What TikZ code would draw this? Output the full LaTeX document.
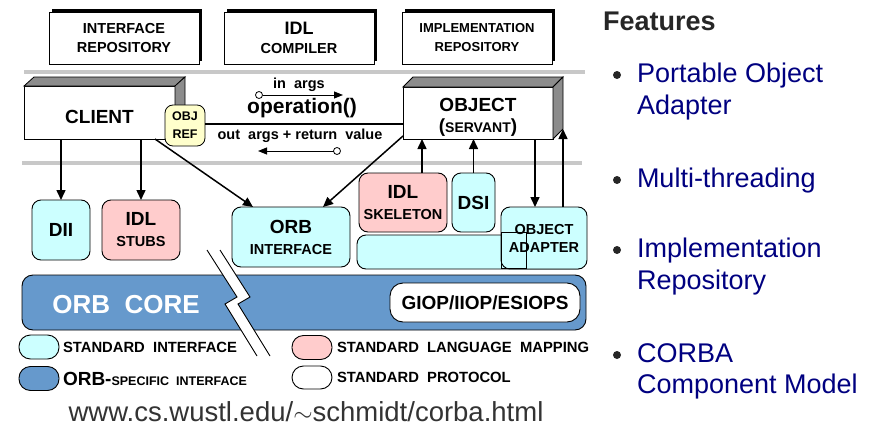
\documentclass[tikz,border=0pt]{standalone}
\usepackage{fontspec}
\setmainfont{Liberation Sans}
\usetikzlibrary{arrows.meta,calc,shadows}
\definecolor{stdcyan}{HTML}{CCFFFF}
\definecolor{stdpink}{HTML}{FFCCCC}
\definecolor{orbblue}{HTML}{6699CC}
\definecolor{refyellow}{HTML}{FFFFCC}
\definecolor{featblue}{HTML}{000080}
\definecolor{sepgray}{HTML}{C8C8C8}
\definecolor{facegray}{HTML}{8C8C8C}
\newcommand\fsz[1]{\fontsize{#1}{#1}\selectfont}
\begin{document}
\begin{tikzpicture}[x=1pt,y=-1pt,
  every node/.style={inner sep=0pt, outer sep=0pt},
  arr/.style={-{Triangle[length=10pt,width=9pt]}, line width=1.5pt},
  arrsmall/.style={-{Triangle[length=9pt,width=7pt]}, line width=1pt},
  conn/.style={line width=1.1pt},
  sep/.style={line width=4pt, draw=sepgray},
  toprepo/.style={draw, line width=0.9pt, fill=white, minimum width=150pt, minimum height=52pt, align=center,
    drop shadow={shadow xshift=3pt, shadow yshift=3pt, fill=black, opacity=1},
    font=\bfseries\fontsize{14.5}{19}\selectfont},
  front/.style={draw, line width=0.9pt, fill=white, minimum width=151pt, minimum height=53pt},
  face/.style={fill=facegray, draw=black, line width=0.8pt},
  rbox/.style={draw, line width=0.9pt, rounded corners=9pt, align=center, font=\bfseries\fontsize{14.5}{21}\selectfont},
  cbox/.style={rbox, fill=stdcyan},
  pbox/.style={rbox, fill=stdpink},
  pill/.style={draw, line width=0.9pt, rounded corners=11.5pt, minimum width=40pt, minimum height=24pt},
  legtext/.style={anchor=west, font=\bfseries\fontsize{14.8}{16}\selectfont},
  feat/.style={anchor=base west, font=\fontsize{27}{30}\selectfont, text=featblue},
  bulletdot/.style={circle, fill=black!85, minimum size=8pt},
  dot/.style={circle, draw, fill=white, line width=0.8pt, minimum size=7pt},
]
\useasboundingbox (0,0) rectangle (878,431);

% top repositories
\node[toprepo] (irep) at (124,38) {INTERFACE\\REPOSITORY};
\node[toprepo] (idlc) at (299,38) {\fontsize{18}{19}\selectfont IDL\\COMPILER};
\node[toprepo, font=\bfseries\fontsize{13}{19}\selectfont] (impl) at (477,38) {IMPLEMENTATION\\REPOSITORY};

% separators
\draw[sep] (24,72) -- (585,72);
\draw[sep] (22,163) -- (582,163);

% client
\node[front] (client) at (99.5,112.5) {};
\draw[face] (client.north west) -- ++(10,-9) -- ($(client.north east)+(10,-9)$) -- (client.north east) -- cycle;
\draw[face] (client.north east) -- ++(10,-9) -- ($(client.south east)+(10,-9)$) -- (client.south east) -- cycle;
\node[font=\bfseries\fsz{19}] (clientlbl) at (99.5,117) {CLIENT};

% object
\node[front, minimum width=150pt, minimum height=52pt] (object) at (478,113) {};
\draw[face] (object.north west) -- ++(10,-10) -- ($(object.north east)+(10,-10)$) -- (object.north east) -- cycle;
\draw[face] (object.north east) -- ++(10,-10) -- ($(object.south east)+(10,-10)$) -- (object.south east) -- cycle;
\coordinate (objsidebot) at ($(object.south east)+(10,-10)$);
\node[font=\bfseries\fsz{19}] (objlbl) at (478,105) {OBJECT};
\node[font=\bfseries\fsz{19}] (servlbl) at (478,128) {(\fsz{14}SERVANT\fsz{19})};

% obj ref
\node[draw, fill=refyellow, rounded corners=8pt, minimum width=40pt, minimum height=41pt, line width=0.8pt,
      align=center, font=\bfseries\fontsize{12.5}{18}\selectfont] (objref) at (185,125.5) {OBJ\\REF};
\draw[conn] (objref.east |- 0,124) -- (object.west |- 0,124);

% operation
\node[dot] (inA) at (259,95) {};
\coordinate (inB) at (343,95);
\draw[arrsmall] (inA) -- (inB);
\node[font=\bfseries\fsz{14.5}] (inlbl) at (299,85) {in\ \ args};
\node[font=\bfseries\fsz{21}] (op) at (302,108) {operation()};
\node[font=\bfseries\fsz{14.5}] (outlbl) at (300,136) {out\ \ args + return\ \ value};
\node[dot] (outA) at (337,151) {};
\coordinate (outB) at (258,151);
\draw[arrsmall] (outA) -- (outB);

% ORB core
\node[draw, line width=0.9pt, fill=orbblue, rounded corners=11pt, minimum width=564pt, minimum height=55pt] (core) at (304,302.5) {};
\node[font=\bfseries\fsz{26}, text=white] (corelbl) at (126,305) {ORB\ \ CORE};
\node[draw, line width=0.9pt, fill=white, rounded corners=13pt, minimum width=190pt, minimum height=39pt,
      font=\bfseries\fsz{19}] (giop) at (485,302.5) {GIOP/IIOP/ESIOPS};

% break symbol
\fill[white] (207,250) -- (237,297) -- (225,304) -- (257,356) -- (270,356) -- (238,304) -- (250,297) -- (220,250) -- cycle;
\draw[line width=0.9pt] (207,250) -- (237,297) -- (225,304) -- (257,356);
\draw[line width=0.9pt] (220,250) -- (250,297) -- (238,304) -- (270,356);

% lower boxes
\node[cbox, minimum width=58pt, minimum height=60pt, font=\bfseries\fsz{19}] (dii) at (61,230) {DII};
\node[pbox, minimum width=78pt, minimum height=60pt] (stubs) at (141,230) {{\fsz{19}IDL}\\STUBS};
\node[cbox, minimum width=118pt, minimum height=60pt] (orbif) at (291,237) {{\fsz{19}ORB}\\INTERFACE};
\node[pbox, minimum width=88pt, minimum height=59pt] (skel) at (403,202.5) {{\fsz{19}IDL}\\SKELETON};
\node[cbox, minimum width=43pt, minimum height=59pt, font=\bfseries\fsz{19}] (dsi) at (473.5,202.5) {DSI};
\node[cbox, minimum width=229pt, minimum height=34pt] (bar) at (471.5,252) {};
\node[cbox, minimum width=86pt, minimum height=62pt, font=\bfseries\fontsize{14.5}{18}\selectfont] (oa) at (544,238) {OBJECT\\ADAPTER};
\draw[line width=0.9pt] (501,232) rectangle (526,268);

% connectors
\draw[arr] (client.south -| dii.north) -- (dii.north);
\draw[arr] (client.south -| stubs.north) -- (stubs.north);
\draw[arr] ([xshift=-20pt]client.south east) -- ([xshift=21pt]orbif.north west);
\draw[arr] ([yshift=3pt]object.south west) -- ([xshift=-27pt]orbif.north east);
\coordinate (skelup) at ($(skel.north)+(19,0)$);
\draw[arr] (skelup) -- (skelup |- object.south);
\draw[arr] (dsi.north) -- (dsi.north |- object.south);
\coordinate (oadn) at ($(oa.north)+(-9,0)$);
\draw[arr] (oadn |- object.south) -- (oadn);
\coordinate (oaup) at ($(oa.north)+(19,0)$);
\draw[arr] (oaup) -- (objsidebot);

% legend
\node[pill, fill=stdcyan] (leg1) at (39,347) {};
\node[legtext] (leg1t) at (63,347) {STANDARD\ \ INTERFACE};
\node[pill, fill=orbblue] (leg2) at (39,378.5) {};
\node[legtext] (leg2t) at (63,378.5) {{\fsz{19}ORB-}{\fsz{12.5}SPECIFIC\ \ INTERFACE}};
\node[pill, fill=stdpink] (leg3) at (312,347.5) {};
\node[legtext] (leg3t) at (337,347.5) {STANDARD\ \ LANGUAGE\ \ MAPPING};
\node[pill, fill=white, minimum height=23pt] (leg4) at (312,377.5) {};
\node[legtext] (leg4t) at (337,377.5) {STANDARD\ \ PROTOCOL};

% URL
\node[font=\fsz{27.5}, text=black!80] (url) at (306,412) {www.cs.wustl.edu/$\sim$schmidt/corba.html};

% features
\node[anchor=base west, font=\bfseries\fsz{27}, text=black!85] (feath) at (603,30) {Features};
\node[bulletdot] (b1) at (617,75) {};
\node[feat] (f1) at (637,82) {Portable Object};
\node[feat] (f1b) at (637,114) {Adapter};
\node[bulletdot] (b2) at (617,180) {};
\node[feat] (f2) at (637,187) {Multi-threading};
\node[bulletdot] (b3) at (617,250) {};
\node[feat] (f3) at (637,257) {Implementation};
\node[feat] (f3b) at (637,289) {Repository};
\node[bulletdot] (b4) at (617,355) {};
\node[feat] (f4) at (637,362) {CORBA};
\node[feat] (f4b) at (637,393) {Component Model};
\end{tikzpicture}
\end{document}
